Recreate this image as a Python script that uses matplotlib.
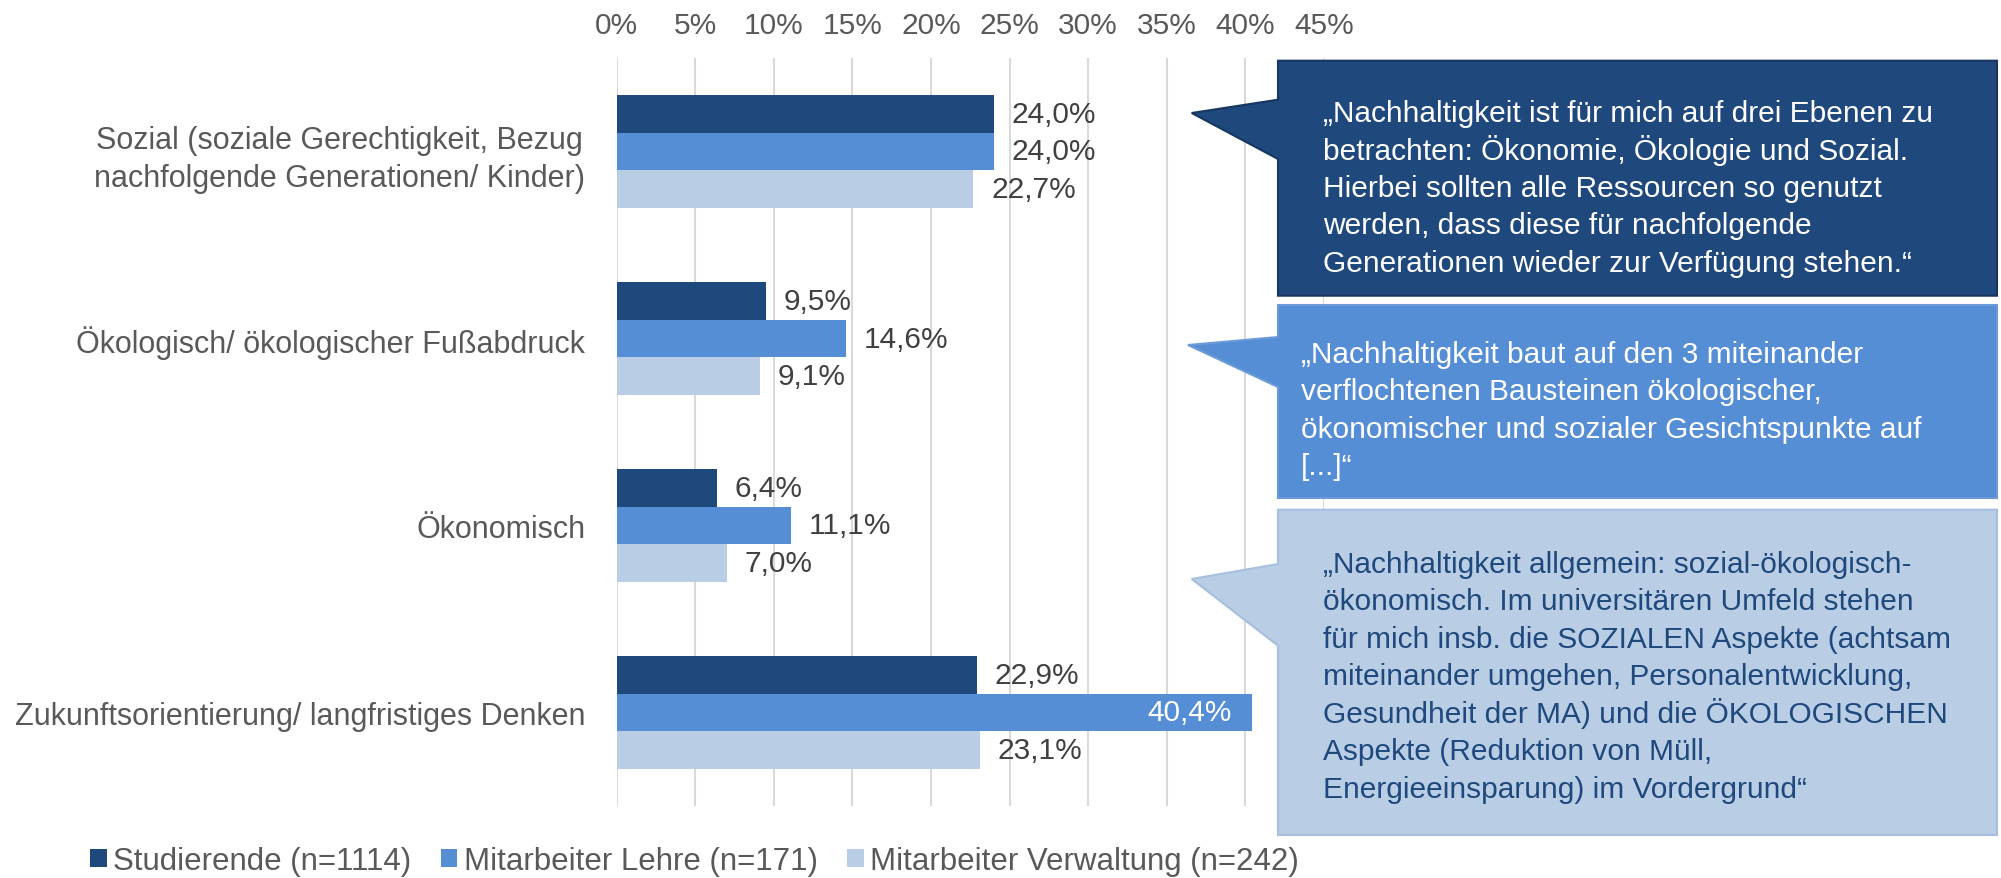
import matplotlib.pyplot as plt
import numpy as np
from matplotlib.patches import Polygon, Patch

plt.rcParams['font.family'] = ['Liberation Sans', 'DejaVu Sans']

categories = ["Sozial (soziale Gerechtigkeit, Bezug\nnachfolgende Generationen/ Kinder)",
              "Ökologisch/ ökologischer Fußabdruck",
              "Ökonomisch",
              "Zukunftsorientierung/ langfristiges Denken"]
series = ["Studierende (n=1114)", "Mitarbeiter Lehre (n=171)", "Mitarbeiter Verwaltung (n=242)"]
studierende = [24.0, 9.5, 6.4, 22.9]
lehre = [24.0, 14.6, 11.1, 40.4]
verwaltung = [22.7, 9.1, 7.0, 23.1]
ticks = [0, 5, 10, 15, 20, 25, 30, 35, 40, 45]

quote1 = ["„Nachhaltigkeit ist für mich auf drei Ebenen zu",
          "betrachten: Ökonomie, Ökologie und Sozial.",
          "Hierbei sollten alle Ressourcen so genutzt",
          "werden, dass diese für nachfolgende",
          "Generationen wieder zur Verfügung stehen.“"]
quote2 = ["„Nachhaltigkeit baut auf den 3 miteinander",
          "verflochtenen Bausteinen ökologischer,",
          "ökonomischer und sozialer Gesichtspunkte auf",
          "[...]“"]
quote3 = ["„Nachhaltigkeit allgemein: sozial-ökologisch-",
          "ökonomisch. Im universitären Umfeld stehen",
          "für mich insb. die SOZIALEN Aspekte (achtsam",
          "miteinander umgehen, Personalentwicklung,",
          "Gesundheit der MA) und die ÖKOLOGISCHEN",
          "Aspekte (Reduktion von Müll,",
          "Energieeinsparung) im Vordergrund“"]

colors = ["#1F497D", "#558ED5", "#B9CDE5"]
FS = 21.5

W, H = 2001, 879
fig = plt.figure(figsize=(W / 100, H / 100), dpi=100)
ax = fig.add_axes([616.7 / W, 1 - 807 / H, (1324 - 616.7) / W, (807 - 59) / H])

y = np.arange(len(categories))
h = 0.202
for k, (vals, c) in enumerate(zip([studierende, lehre, verwaltung], colors)):
    pos = y + (k - 1) * h
    ax.barh(pos, vals, height=h, color=c, zorder=2)
    for p, v in zip(pos, vals):
        txt = f"{v:.1f}%".replace(".", ",")
        if v > 35:
            ax.annotate(txt, (v, p), xytext=(-14.4, 0), textcoords="offset points",
                        ha="right", va="center", fontsize=FS, color="white")
        else:
            ax.annotate(txt, (v, p), xytext=(12.7, 0), textcoords="offset points",
                        ha="left", va="center", fontsize=FS, color="#404040")

ax.set_xlim(0, 45)
ax.set_ylim(len(categories) - 0.5, -0.5)
ax.set_xticks(ticks)
ax.set_xticklabels([f"{t}%" for t in ticks])
ax.xaxis.tick_top()
ax.tick_params(axis="x", length=0, pad=13.5, labelsize=FS, labelcolor="#595959")
ax.set_yticks(y)
ax.set_yticklabels(categories)
ax.tick_params(axis="y", length=0, pad=22.7, labelsize=22, labelcolor="#595959")
for t in ax.get_yticklabels():
    t.set_multialignment("center")
    t.set_linespacing(1.35)
ax.grid(axis="x", color="#D9D9D9", lw=1.5, zorder=0)
ax.set_axisbelow(True)
for s in ax.spines.values():
    s.set_visible(False)

handles = [Patch(facecolor=c, edgecolor="none") for c in colors]
fig.legend(handles, series, loc="center left", bbox_to_anchor=(90 / W, 1 - 862 / H),
           ncol=3, frameon=False, fontsize=22.5, handlelength=0.534, handleheight=0.534,
           handletextpad=0.21, columnspacing=0.93, borderpad=0, borderaxespad=0,
           labelcolor="#595959")

# callouts drawn in pixel coordinates on a full-figure overlay
ov = fig.add_axes([0, 0, 1, 1], zorder=5)
ov.set_xlim(0, W)
ov.set_ylim(H, 0)
ov.axis("off")

def callout(box, base, tip, face, edge, lines, tx, ty0, tcol):
    x0, y0, x1, y1 = box
    verts = [(x0, y0), (x1, y0), (x1, y1), (x0, y1), (x0, base[1]), tip, (x0, base[0])]
    ov.add_patch(Polygon(verts, closed=True, facecolor=face, edgecolor=edge, lw=1.5))
    for i, line in enumerate(lines):
        ov.text(tx, ty0 + 37.5 * i, line, fontsize=FS, color=tcol, ha="left", va="baseline")

callout((1278, 61.7, 1997, 296.7), (100.7, 160), (1191.7, 114), "#1F497D", "#17375E",
        quote1, 1323, 122, "white")
callout((1278, 306, 1997, 499), (338, 388), (1188, 346), "#558ED5", "#6A9BD8",
        quote2, 1301, 363, "white")
callout((1278, 510.7, 1997, 836), (565, 646.7), (1191.7, 580), "#B9CDE5", "#A7BFDF",
        quote3, 1323, 573, "#1F497D")

fig.savefig("out.png", dpi=100)
